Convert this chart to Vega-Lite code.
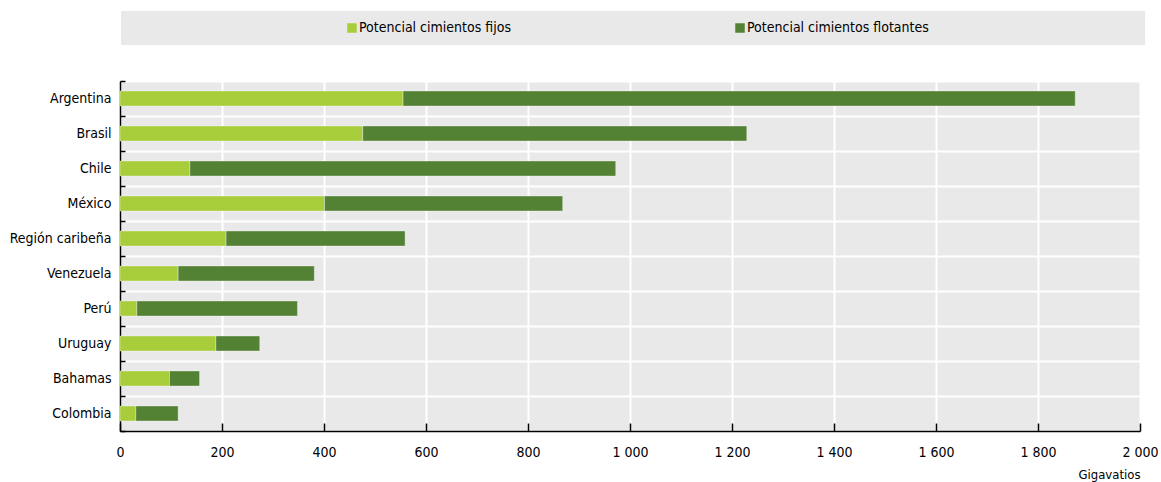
{
  "$schema": "https://vega.github.io/schema/vega-lite/v6.json",
  "width": 1020,
  "height": 350,
  "autosize": {"type": "none"},
  "padding": {"left": 120, "top": 81, "right": 21, "bottom": 51},
  "background": "#ffffff",
  "config": {
    "font": "Liberation Sans Narrow, DejaVu Sans Condensed, Arial Narrow, sans-serif",
    "view": {"fill": "#e9e9e9", "stroke": null}
  },
  "data": {
    "values": [
      {"pais": "Argentina", "serie": "Potencial cimientos fijos", "gw": 555},
      {"pais": "Argentina", "serie": "Potencial cimientos flotantes", "gw": 1318},
      {"pais": "Brasil", "serie": "Potencial cimientos fijos", "gw": 476},
      {"pais": "Brasil", "serie": "Potencial cimientos flotantes", "gw": 753},
      {"pais": "Chile", "serie": "Potencial cimientos fijos", "gw": 137},
      {"pais": "Chile", "serie": "Potencial cimientos flotantes", "gw": 835},
      {"pais": "México", "serie": "Potencial cimientos fijos", "gw": 401},
      {"pais": "México", "serie": "Potencial cimientos flotantes", "gw": 467},
      {"pais": "Región caribeña", "serie": "Potencial cimientos fijos", "gw": 208},
      {"pais": "Región caribeña", "serie": "Potencial cimientos flotantes", "gw": 351},
      {"pais": "Venezuela", "serie": "Potencial cimientos fijos", "gw": 114},
      {"pais": "Venezuela", "serie": "Potencial cimientos flotantes", "gw": 267},
      {"pais": "Perú", "serie": "Potencial cimientos fijos", "gw": 33},
      {"pais": "Perú", "serie": "Potencial cimientos flotantes", "gw": 315},
      {"pais": "Uruguay", "serie": "Potencial cimientos fijos", "gw": 188},
      {"pais": "Uruguay", "serie": "Potencial cimientos flotantes", "gw": 86},
      {"pais": "Bahamas", "serie": "Potencial cimientos fijos", "gw": 97},
      {"pais": "Bahamas", "serie": "Potencial cimientos flotantes", "gw": 59},
      {"pais": "Colombia", "serie": "Potencial cimientos fijos", "gw": 31},
      {"pais": "Colombia", "serie": "Potencial cimientos flotantes", "gw": 83}
    ]
  },
  "mark": {"type": "bar", "height": 15, "stroke": "#ffffff", "strokeOpacity": 0.35, "strokeWidth": 1},
  "encoding": {
    "y": {
      "field": "pais",
      "type": "nominal",
      "sort": ["Argentina", "Brasil", "Chile", "México", "Región caribeña", "Venezuela", "Perú", "Uruguay", "Bahamas", "Colombia"],
      "scale": {"paddingInner": 0, "paddingOuter": 0},
      "axis": {
        "title": null,
        "tickBand": "extent",
        "domainColor": "#000000",
        "domainWidth": 1.5,
        "tickColor": "#000000",
        "tickSize": -5,
        "tickWidth": 1.5,
        "labelPadding": 14,
        "labelFontSize": 14,
        "labelColor": "#000000",
        "grid": true,
        "gridColor": "#ffffff",
        "gridWidth": 2
      }
    },
    "x": {
      "field": "gw",
      "type": "quantitative",
      "stack": "zero",
      "scale": {"domain": [0, 2000], "nice": false},
      "axis": {
        "title": "Gigavatios",
        "titleAnchor": "end",
        "titleAlign": "right",
        "titleFontWeight": "normal",
        "titleFontSize": 13,
        "titleColor": "#000000",
        "titlePadding": 9,
        "values": [0, 200, 400, 600, 800, 1000, 1200, 1400, 1600, 1800, 2000],
        "labelExpr": "replace(format(datum.value, ','), ',', ' ')",
        "labelFontSize": 14,
        "labelColor": "#000000",
        "labelPadding": 22,
        "labelFlush": false,
        "domainColor": "#000000",
        "domainWidth": 1.5,
        "tickColor": "#000000",
        "tickSize": -8,
        "tickWidth": 1.5,
        "grid": true,
        "gridColor": "#ffffff",
        "gridWidth": 2
      }
    },
    "color": {
      "field": "serie",
      "type": "nominal",
      "scale": {
        "domain": ["Potencial cimientos fijos", "Potencial cimientos flotantes"],
        "range": ["#a8cd3a", "#548235"]
      },
      "legend": {
        "orient": "none",
        "legendX": 1,
        "legendY": -70,
        "direction": "horizontal",
        "title": " ",
        "titleOrient": "right",
        "titlePadding": 206,
        "fillColor": "#e9e9e9",
        "padding": 10,
        "symbolType": "square",
        "symbolSize": 90,
        "symbolStrokeWidth": 0,
        "symbolOffset": 214,
        "labelOffset": 0,
        "columnPadding": 8,
        "labelFontSize": 14,
        "labelColor": "#000000",
        "labelLimit": 400
      }
    },
    "order": {"field": "serie", "type": "nominal", "sort": "ascending"}
  }
}
